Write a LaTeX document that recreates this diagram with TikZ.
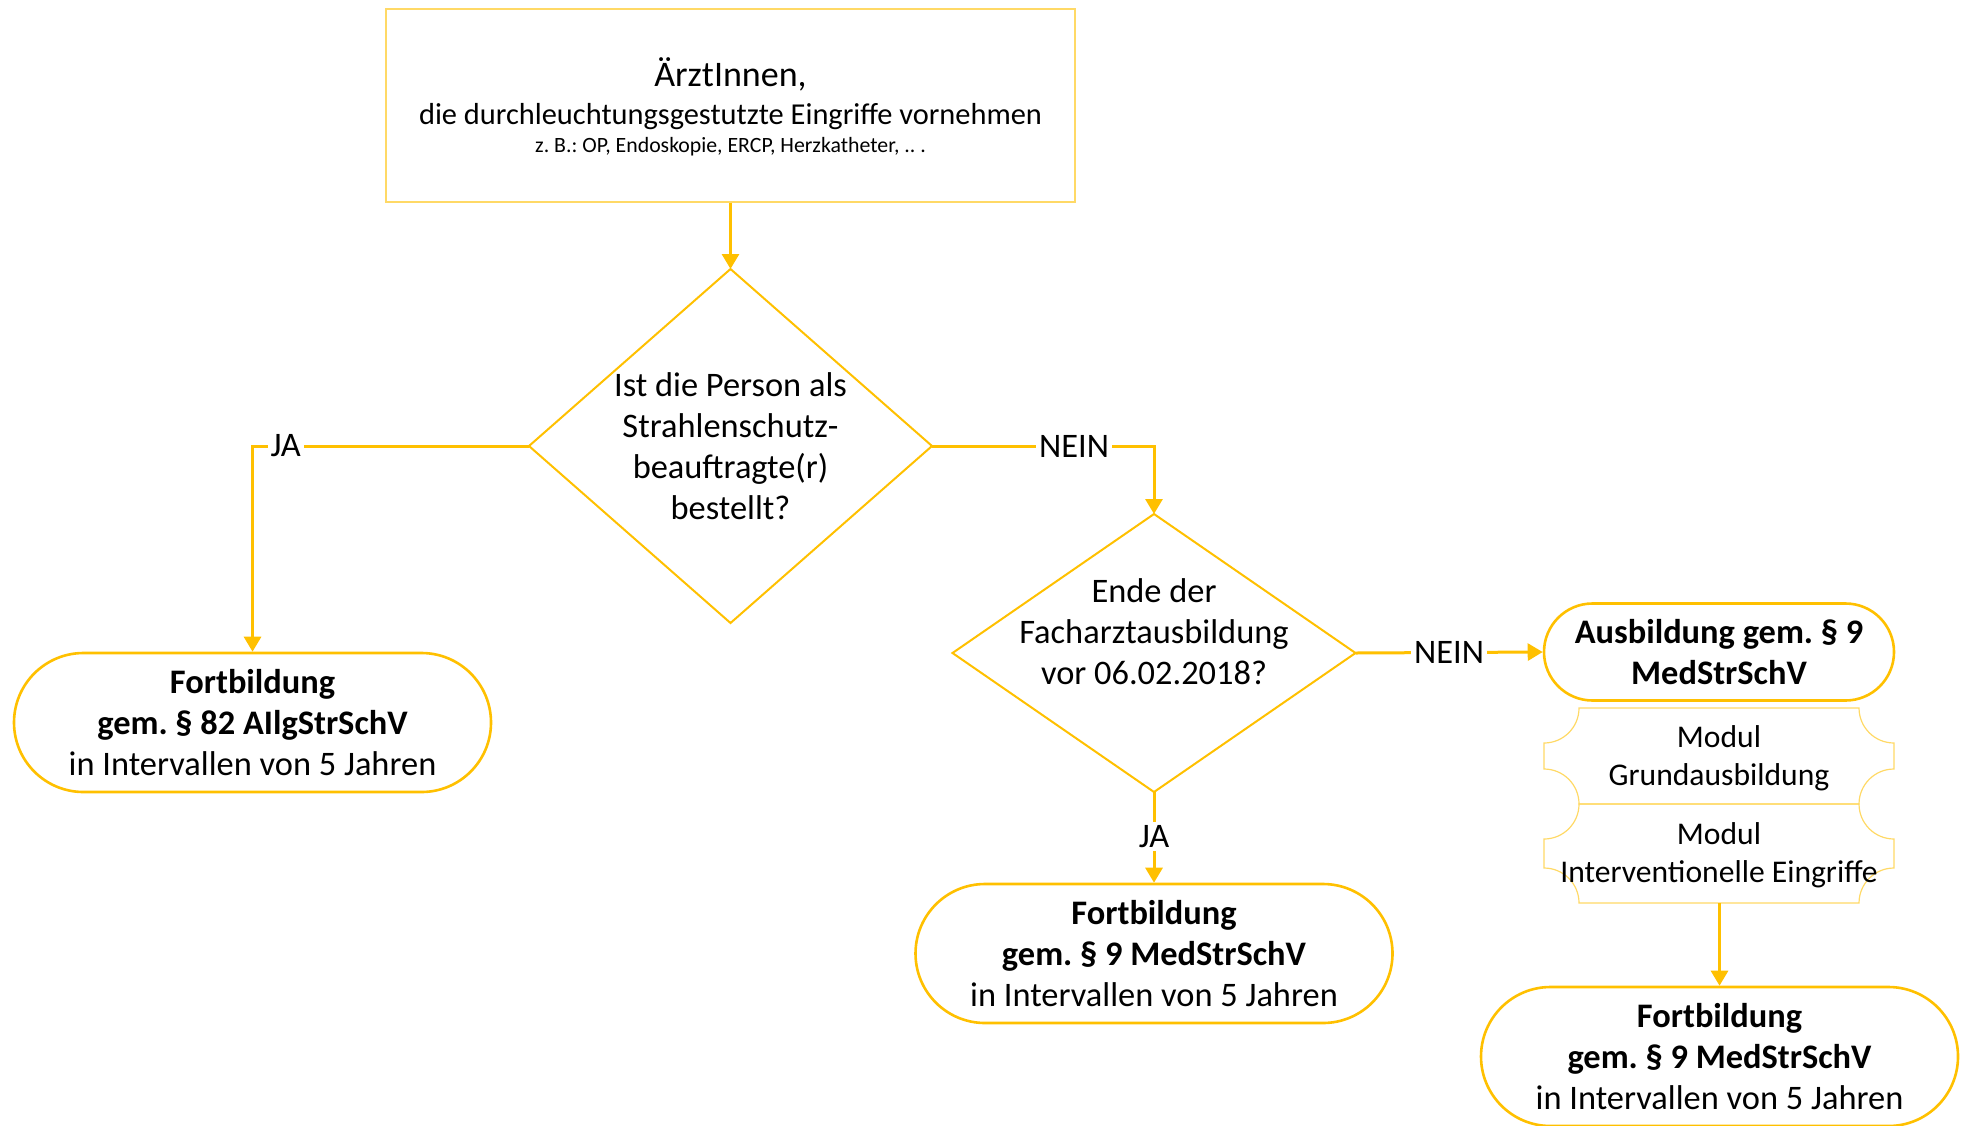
\documentclass[tikz,border=0pt]{standalone}
\usepackage{fontspec}
\setmainfont{Carlito}
\usetikzlibrary{shapes.geometric,shapes.misc,arrows.meta}
\definecolor{gold}{HTML}{FFC000}
\definecolor{lightgold}{HTML}{FFD966}
\frenchspacing
\begin{document}
\begin{tikzpicture}[x=0.5pt,y=-0.5pt,
  txt/.style={font=\fontsize{17.2}{20.5}\selectfont},
  term/.style={rounded rectangle, draw=gold, line width=1.3pt, minimum width=238.5pt, minimum height=69.5pt, align=center, inner sep=0pt, txt},
  dia/.style={diamond, draw=gold, line width=1pt, inner sep=0pt, outer sep=0pt},
  conn/.style={draw=gold, line width=1.5pt, -{Triangle[length=7.5pt,width=8.5pt]}},
  lbl/.style={fill=white, inner sep=1.5pt, text=black, txt},
  modul/.style={draw=lightgold, line width=0.6pt},
  modtxt/.style={align=center, font=\fontsize{15.8}{18.8}\selectfont}
]
\useasboundingbox (0,0) rectangle (1964,1125);

% top box
\node[draw=lightgold, line width=0.7pt, minimum width=344.5pt, minimum height=96.5pt, inner sep=0pt] (top) at (730.5,105.5) {};
\node[anchor=base, font=\fontsize{18}{21}\selectfont, inner sep=0pt] (top1) at (730.5,86.5) {ÄrztInnen,};
\node[anchor=base, font=\fontsize{15.2}{18}\selectfont, inner sep=0pt] (top2) at (730.5,124.5) {die durchleuchtungsgestutzte Eingriffe vornehmen};
\node[anchor=base, font=\fontsize{10.9}{13}\selectfont, inner sep=0pt] (top3) at (730.5,152.5) {z. B.: OP, Endoskopie, ERCP, Herzkatheter, .. .};

% diamonds
\node[dia, minimum width=201.5pt, minimum height=177pt] (d1) at (730.5,446) {};
\node[align=center, txt] (d1t) at (d1.center) {Ist die Person als\\Strahlenschutz-\\beauftragte(r)\\bestellt?};
\node[dia, minimum width=201.5pt, minimum height=139pt] (d2) at (1154,653) {};
\node[align=center, txt] (d2t) at (1154,632) {Ende der\\Facharztausbildung\\vor 06.02.2018?};

% terminals
\node[term] (t1) at (252.5,722.5) {\textbf{Fortbildung}\\\textbf{gem. § 82 AIlgStrSchV}\\in Intervallen von 5 Jahren};
\node[term] (t2) at (1154,953.5) {\textbf{Fortbildung}\\\textbf{gem. § 9 MedStrSchV}\\in Intervallen von 5 Jahren};
\node[term] (t3) at (1719.5,1056.5) {\textbf{Fortbildung}\\\textbf{gem. § 9 MedStrSchV}\\in Intervallen von 5 Jahren};
\node[rounded rectangle, draw=gold, line width=1.3pt, minimum width=175pt, minimum height=48.5pt, align=center, inner sep=0pt, txt] (aus) at (1719,652)
  {\textbf{Ausbildung gem. § 9}\\\textbf{MedStrSchV}};

% modules
\def\r{35}
\draw[modul] (1544+\r,708) -- (1894-\r,708)
  arc[start angle=180, end angle=270, radius=\r*0.5pt] -- (1894,804-\r)
  arc[start angle=90, end angle=180, radius=\r*0.5pt] -- (1544+\r,804)
  arc[start angle=0, end angle=90, radius=\r*0.5pt] -- (1544,708+\r)
  arc[start angle=270, end angle=360, radius=\r*0.5pt] -- cycle;
\draw[modul] (1544+\r,804) -- (1894-\r,804)
  arc[start angle=180, end angle=270, radius=\r*0.5pt] -- (1894,903-\r)
  arc[start angle=90, end angle=180, radius=\r*0.5pt] -- (1544+\r,903)
  arc[start angle=0, end angle=90, radius=\r*0.5pt] -- (1544,804+\r)
  arc[start angle=270, end angle=360, radius=\r*0.5pt] -- cycle;
\node[modtxt] (m1) at (1719,758.5) {Modul\\Grundausbildung};
\node[modtxt] (m2) at (1719,855.5) {Modul\\Interventionelle Eingriffe};
\coordinate (mb) at (1719.5,903);

% connectors
\draw[conn] (top.south) -- (d1.north);
\draw[conn] (d1.west) -| node[lbl, pos=0.44] {JA} (t1.north);
\draw[conn] (d1.east) -| node[lbl, pos=0.32] {NEIN} (d2.north);
\draw[conn] (d2.east) -- node[lbl, pos=0.5] {NEIN} (aus.west);
\draw[conn] (d2.south) -- node[lbl, pos=0.49] {JA} (t2.north);
\draw[conn] (mb) -- (t3.north);
\end{tikzpicture}
\end{document}
